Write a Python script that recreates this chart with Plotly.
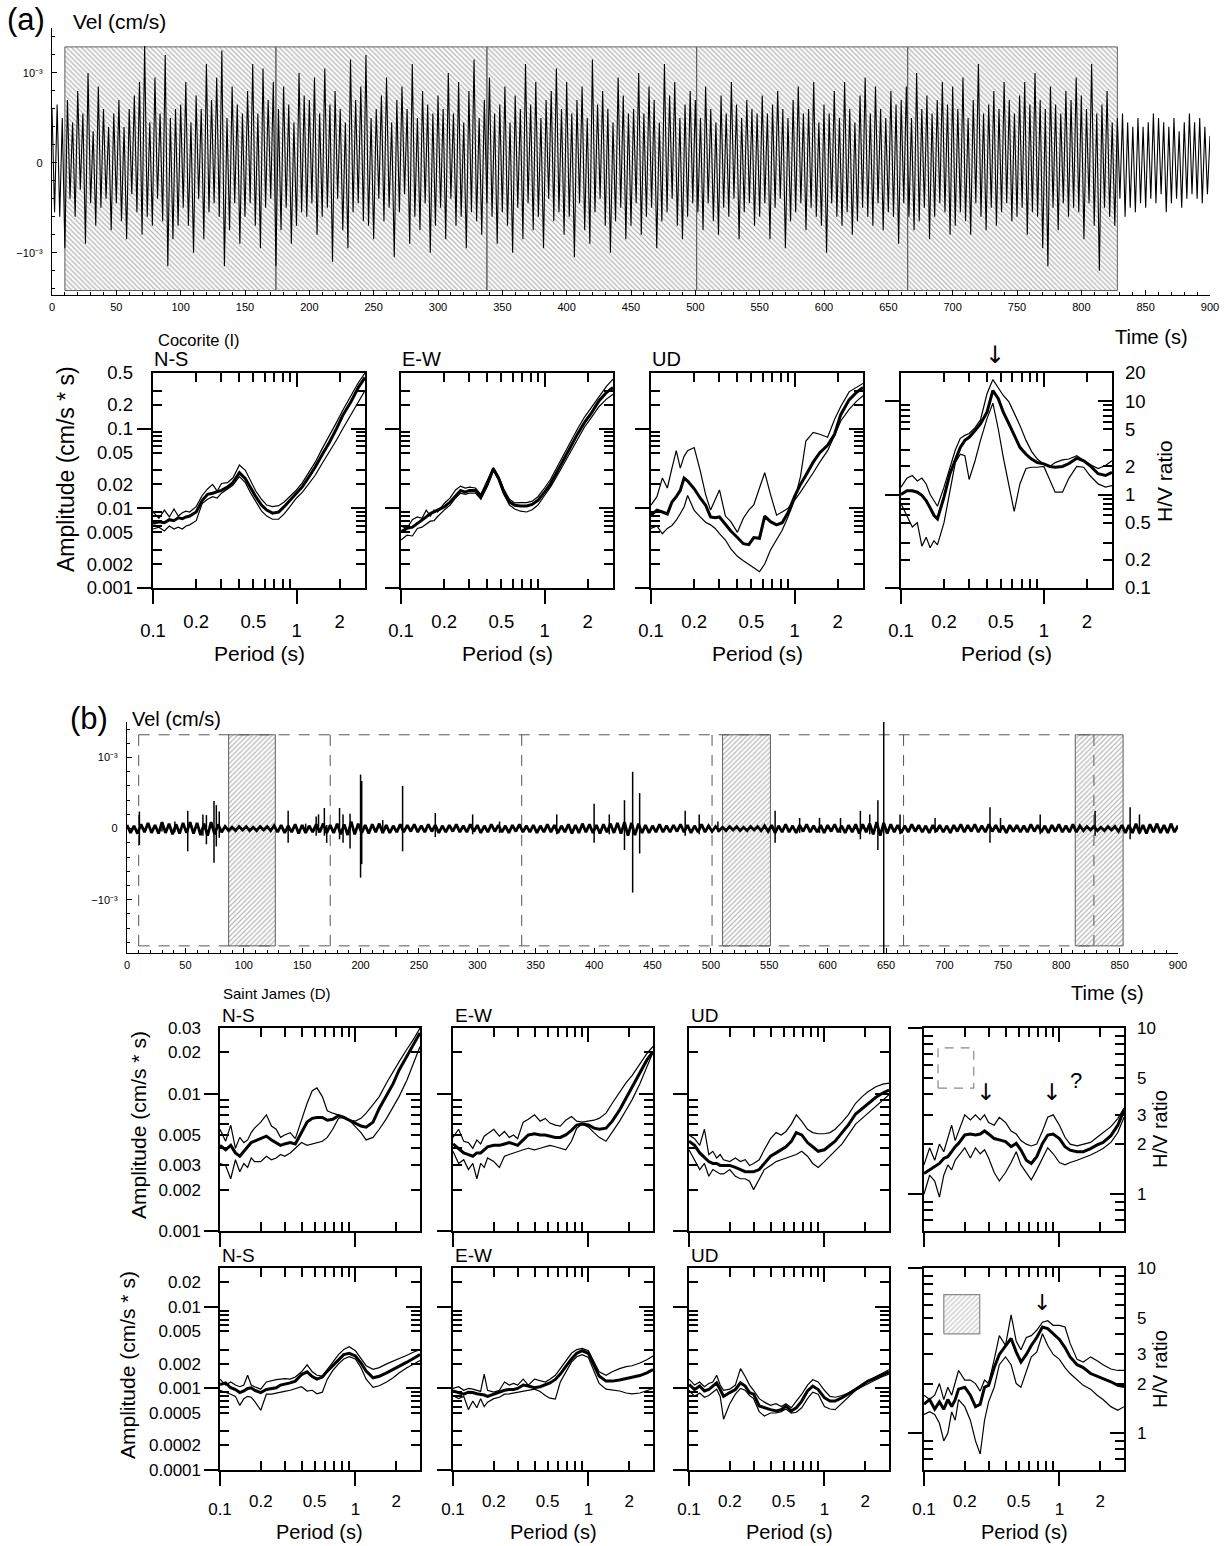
import math
import plotly.graph_objects as go

W, H = 1232, 1546
FONT = "Liberation Sans, Arial, Helvetica, sans-serif"

# ============================ DATA ============================
# (a) Cocorite velocity record, one value every 2 s, units 1e-5 cm/s
wave_a_dt = 2
wave_a = [
    60, -55, 65, -60, 50, -95, 70, -40, 45, -60, 80, -30, 55, -90, 100, -45, 35, -70, 85, -50, 60, -40, 40, -75, 55,
    -45, 70, -65, 40, -85, 60, -35, 75, -55, 90, -80, 130, -60, 45, -70, 95, -40, 55, -65, 120, -115, 50, -85, 60, -70,
    65, -50, 90, -70, 45, -100, 75, -40, 60, -85, 110, -55, 70, -45, 95, -60, 125, -115, 50, -75, 85, -45, 65, -90, 55,
    -60, 80, -45, 110, -70, 55, -95, 105, -50, 70, -40, 90, -115, 60, -75, 85, -50, 65, -90, 45, -70, 100, -55, 75, -60,
    70, -45, 95, -80, 55, -60, 105, -50, 65, -110, 80, -40, 60, -75, 45, -95, 115, -55, 70, -45, 85, -65, 120, -70, 50,
    -85, 60, -40, 75, -65, 95, -50, 45, -105, 70, -55, 85, -35, 60, -90, 110, -60, 50, -75, 80, -45, 65, -100, 55, -70,
    75, -50, 60, -85, 100, -40, 55, -70, 90, -60, 45, -95, 80, -55, 115, -65, 50, -80, 70, -45, 95, -60, 55, -90, 65,
    -55, 85, -70, 45, -100, 75, -50, 60, -85, 110, -45, 65, -75, 90, -60, 50, -95, 70, -40, 80, -65, 105, -55, 60, -80,
    90, -60, 55, -105, 70, -45, 85, -75, 50, -90, 115, -55, 65, -40, 80, -70, 60, -100, 45, -65, 95, -50, 75, -85, 55,
    -70, 60, -45, 100, -80, 55, -60, 85, -50, 70, -95, 45, -65, 110, -55, 75, -40, 90, -70, 50, -85, 65, -60, 80, -45,
    70, -55, 50, -75, 85, -45, 60, -65, 45, -80, 75, -50, 55, -60, 90, -40, 65, -85, 50, -55, 70, -45, 60, -70, 55,
    -60, 75, -45, 55, -85, 65, -50, 80, -40, 60, -95, 50, -65, 70, -55, 85, -45, 55, -75, 60, -50, 90, -60, 45, -70,
    65, -100, 55, -45, 80, -60, 50, -70, 90, -55, 60, -80, 45, -65, 75, -50, 95, -60, 55, -70, 85, -45, 60, -75, 50,
    -55, 80, -60, 65, -90, 70, -45, 85, -60, 50, -75, 100, -65, 60, -50, 75, -85, 55, -60, 70, -45, 90, -55, 65, -80,
    85, -70, 60, -55, 95, -65, 50, -80, 70, -45, 110, -60, 55, -75, 65, -50, 80, -70, 60, -55, 90, -45, 70, -65, 55,
    -60, 75, -50, 90, -80, 65, -55, 100, -60, 70, -95, 60, -115, 85, -50, 65, -75, 55, -45, 80, -60, 70, -50, 95, -55,
    75, -85, 60, -45, 110, -70, 55, -120, 65, -50, 80, -60, 45, -70, 50, -40, 55, -60, 45, -50, 40, -55, 50, -45, 40,
    -50, 45, -40, 55, -45, 50, -35, 45, -55, 40, -45, 50, -40, 35, -50, 45, -40, 55, -35, 45, -40, 50, -45, 40, -35,
    30]

# (b) Saint James background noise, one value every 3 s, units 1e-5 cm/s
wave_b_dt = 3
wave_b_noise = [
    5, -6, 4, -7, 6, -5, 8, -6, 5, -7, 9, -6, 7, -8, 6, -7, 8, -6, 9, -7,
    8, -9, 7, -10, 9, -8, 6, -5, 3, -3, 2, -3, 3, -2, 3, -3, 2, -3, 3, -2,
    3, -3, 4, -5, 5, -6, 4, -5, 6, -7, 5, -6, 4, -5, 6, -5, 7, -6, 5, -6,
    7, -8, 6, -9, 10, -8, 7, -6, 5, -7, 6, -5, 7, -6, 5, -6, 4, -5, 6, -5,
    5, -4, 6, -5, 4, -5, 6, -4, 5, -6, 4, -5, 5, -4, 6, -5, 4, -5, 6, -4,
    5, -6, 4, -5, 6, -4, 5, -5, 4, -6, 5, -4, 6, -5, 4, -5, 5, -6, 4, -5,
    6, -5, 5, -6, 4, -5, 6, -7, 5, -6, 7, -5, 6, -6, 5, -7, 6, -5, 7, -6,
    8, -7, 9, -10, 8, -9, 7, -6, 5, -6, 4, -5, 6, -5, 4, -5, 5, -4, 6, -5,
    5, -6, 4, -5, 6, -5, 4, -4, 3, -3, 2, -3, 3, -2, 3, -3, 2, -3, 3, -2,
    3, -3, 4, -4, 5, -6, 4, -5, 6, -5, 4, -6, 5, -4, 6, -5, 4, -5, 5, -6,
    5, -4, 6, -5, 4, -6, 5, -5, 6, -7, 6, -5, 7, -8, 9, -10, 8, -7, 6, -5,
    5, -6, 4, -5, 6, -4, 5, -5, 4, -6, 5, -4, 5, -5, 4, -6, 5, -4, 6, -5,
    5, -4, 6, -5, 4, -5, 6, -4, 5, -5, 4, -6, 5, -4, 5, -5, 4, -5, 6, -4,
    5, -5, 4, -6, 5, -4, 6, -5, 4, -5, 6, -5, 4, -3, 3, -2, 3, -3, 2, -3,
    3, -2, 3, -4, 5, -6, 5, -6, 7, -6, 5, -7, 6, -5, 7, -6, 5, -6, 7, -5,
    4]

# (b) transients: time (s), positive and negative peaks (1e-3 cm/s)
spike_time = [10.6, 30, 41, 52, 65, 68, 74.5, 76.5, 79, 138, 153, 162, 164, 169, 171, 182, 185, 191,
              200, 201, 219, 236, 264, 296, 319, 368, 400, 413, 426, 433, 439, 478, 490, 506, 555,
              576, 593, 611, 628, 636, 643, 648, 662, 692, 739, 748, 782, 829, 859, 867]
spike_pos = [0.24, 0.08, 0.10, 0.25, 0.20, 0.19, 0.39, 0.33, 0.24, 0.25, 0.07, 0.17, 0.20, 0.29, 0.05,
             0.29, 0.20, 0.21, 0.76, 0.67, 0.12, 0.60, 0.22, 0.20, 0.10, 0.20, 0.35, 0.20, 0.40, 0.80,
             0.50, 0.25, 0.20, 0.10, 0.25, 0.15, 0.15, 0.15, 0.25, 0.20, 0.40, 1.85, 0.20, 0.15, 0.30,
             0.15, 0.20, 0.25, 0.30, 0.20]
spike_neg = [-0.23, -0.04, -0.05, -0.32, -0.10, -0.22, -0.48, -0.25, -0.13, -0.20, -0.03, -0.10, -0.06,
             -0.10, -0.20, -0.15, -0.20, -0.28, -0.69, -0.50, -0.05, -0.32, -0.12, -0.08, -0.06, -0.08,
             -0.20, -0.08, -0.30, -0.90, -0.35, -0.10, -0.08, -0.05, -0.20, -0.06, -0.06, -0.06, -0.15,
             -0.08, -0.30, -1.75, -0.08, -0.06, -0.20, -0.06, -0.08, -0.10, -0.15, -0.08]

# analysis windows (s) and their velocity extent (cm/s)
window_start = [10, 174, 338, 501, 665]
window_end = [174, 338, 501, 665, 828]
window_vel_a = [-1.42e-3, 1.29e-3]
window_vel_b = [-1.65e-3, 1.32e-3]
quiet_start = [87, 510, 812]
quiet_end = [127, 551, 853]

# period grid (s) of the spectra
period = [0.10, 0.11, 0.12, 0.13, 0.14, 0.15, 0.16, 0.17, 0.18, 0.20, 0.22, 0.24, 0.26, 0.28, 0.30,
          0.33, 0.36, 0.40, 0.44, 0.48, 0.52, 0.57, 0.62, 0.68, 0.75, 0.82, 0.90,
          1.0, 1.1, 1.2, 1.35, 1.5, 1.7, 1.9, 2.1, 2.4, 2.7, 3.0]

# ---- (a) Cocorite spectra, amplitude in 1e-3 cm/s*s (upper, lower, mean)
a_ns_up = [9.0, 7.5, 9.5, 7.8, 9.8, 8.0, 8.8, 9.2, 9.0, 10.5, 14.5, 17.5, 20, 16.5, 20.5,
           21, 24, 35, 30, 22, 16.5, 13, 11, 10.5, 10.8, 12, 14,
           17, 21, 27, 38, 55, 82, 120, 170, 260, 380, 500]
a_ns_lo = [5.5, 5.8, 5.2, 6.0, 5.5, 5.8, 5.5, 6.0, 6.2, 7.0, 11.5, 13, 14, 13.5, 15.5,
           17.5, 19.5, 25, 21, 15.5, 12, 9.3, 8.0, 7.3, 7.3, 8.5, 10.5,
           13.5, 16, 19.5, 26, 36, 51, 72, 100, 150, 220, 300]
a_ns_mean = [6.5, 6.8, 6.6, 7.2, 7.0, 7.6, 7.4, 7.8, 8.0, 9.0, 12.5, 15.0, 15.5, 16.0, 16.8,
             18.5, 21, 28, 23.5, 18, 14, 11, 9.5, 8.7, 9.0, 10.5, 12.5,
             15.4, 18.7, 23.7, 33, 46.5, 68, 100, 147, 220, 330, 440]
a_ew_up = [6.0, 5.6, 7.2, 7.8, 7.5, 9.5, 8.0, 9.5, 9.0, 11.5, 13.5, 17, 19, 18, 18.5,
           18, 15, 22, 32.5, 25, 17.5, 13, 11.7, 11.8, 11.8, 12.3, 14,
           18, 23, 31, 46, 68, 100, 140, 180, 260, 340, 420]
a_ew_lo = [4.0, 4.6, 4.5, 5.6, 5.8, 6.3, 6.9, 7.0, 7.9, 9.5, 11, 13.5, 15.5, 15, 15.5,
           15.5, 13, 19, 30, 22.5, 15, 11, 9.8, 9.2, 9.0, 9.6, 11,
           14.5, 18.5, 24, 35, 51, 76, 105, 135, 190, 235, 270]
a_ew_mean = [5.1, 5.6, 5.8, 6.4, 7.1, 7.8, 8.6, 9.0, 9.4, 10.4, 12, 14.5, 16.8, 16, 16.8,
             16.8, 13.9, 20.3, 31.3, 23.5, 16, 12, 10.9, 10.7, 10.7, 11.2, 12.6,
             16, 20.3, 27, 39.8, 58, 86, 120, 153, 224, 284, 330]
a_ud_up = [11, 14, 24, 18, 32, 53, 32, 45, 53, 58, 30, 15, 9.5, 13, 17,
           8, 6.8, 5.0, 7.5, 9.5, 11, 18, 28, 15, 8.2, 9.0, 10,
           12.6, 25, 70, 90, 85, 78, 130, 190, 290, 330, 370]
a_ud_lo = [5.6, 6.0, 4.8, 5.6, 6.1, 7.1, 8.6, 10.4, 14.5, 9.4, 7.8, 6.7, 6.2, 5.6, 4.8,
           4.0, 3.1, 2.5, 2.2, 2.0, 1.8, 1.6, 2.0, 3.0, 4.0, 5.3, 7.8,
           12.6, 16, 20, 28, 38, 53, 82, 125, 175, 220, 260]
a_ud_mean = [8.2, 9.5, 9.0, 8.5, 12, 14, 16.8, 24, 22, 17.6, 13.5, 11, 7.8, 7.6, 7.8,
             6.2, 5.2, 4.3, 3.6, 3.5, 4.3, 4.2, 8.0, 6.8, 6.2, 6.6, 8.8,
             14, 20, 26, 38, 50, 62, 85, 150, 230, 285, 330]
a_hv_up = [1.2, 1.5, 1.6, 1.4, 1.5, 1.3, 1.0, 0.85, 0.75, 1.2, 2.0, 3.0, 4.0, 4.3, 4.5,
           5.2, 6.3, 12, 17, 14, 11.5, 9.8, 7.5, 5.5, 3.8, 2.9, 2.4,
           2.1, 2.0, 2.2, 2.35, 2.4, 2.6, 2.3, 2.1, 1.9, 2.05, 2.3]
a_hv_lo = [0.8, 0.6, 0.45, 0.5, 0.28, 0.35, 0.27, 0.32, 0.29, 0.5, 1.1, 2.2, 2.7, 2.6, 1.45,
           2.3, 3.8, 6.5, 9.5, 5.0, 2.5, 1.2, 0.66, 1.3, 1.9, 1.96, 1.96,
           2.0, 1.4, 1.06, 1.06, 1.5, 2.0, 1.96, 1.6, 1.3, 1.2, 1.25]
a_hv_mean = [1.0, 1.1, 1.1, 1.06, 0.98, 0.86, 0.72, 0.6, 0.55, 0.94, 1.67, 2.4, 3.2, 3.8, 4.1,
             4.85, 5.7, 7.6, 13, 10.6, 7.6, 5.7, 4.3, 3.2, 2.7, 2.4, 2.2,
             2.13, 2.0, 1.96, 2.0, 2.15, 2.45, 2.3, 2.05, 1.67, 1.6, 1.73]

# ---- (b) Saint James, upper row (all windows), amplitude in 1e-3 cm/s*s
b1_ns_up = [5.5, 4.5, 5.9, 4.0, 4.8, 4.4, 4.6, 5.2, 5.6, 6.2, 7.0, 5.8, 5.5, 4.8, 5.0,
            5.2, 4.7, 6.5, 8.5, 10.5, 11.0, 9.5, 7.5, 7.2, 7.0, 6.8, 6.4,
            6.3, 6.6, 7.2, 8.3, 9.5, 12, 14.5, 17, 21, 25, 30]
b1_ns_lo = [3.1, 3.0, 2.4, 3.3, 2.7, 3.1, 2.9, 3.4, 3.2, 3.2, 3.5, 3.3, 3.4, 3.6, 3.5,
            3.7, 4.0, 4.4, 4.2, 4.3, 4.4, 4.5, 4.8, 5.5, 6.6, 6.8, 6.4,
            5.7, 5.2, 4.6, 4.8, 5.5, 6.6, 8.0, 9.5, 12.5, 17, 22]
b1_ns_mean = [4.2, 3.9, 4.2, 3.7, 3.5, 3.8, 4.1, 4.4, 4.5, 4.7, 4.9, 4.6, 4.4, 4.2, 4.3,
              4.4, 4.3, 5.2, 6.2, 6.6, 6.7, 6.7, 6.4, 6.5, 6.9, 6.7, 6.4,
              6.0, 5.8, 5.7, 6.2, 7.8, 9.8, 11.8, 14.8, 18.5, 23, 27.6]
b1_ew_up = [4.8, 5.5, 4.5, 4.4, 4.0, 4.6, 4.3, 4.9, 5.1, 5.5, 4.9, 5.3, 4.8, 5.0, 4.7,
            6.2, 6.5, 7.0, 6.3, 6.6, 6.1, 5.9, 5.8, 6.4, 6.8, 6.3, 6.2,
            6.3, 6.4, 6.6, 7.2, 8.5, 10.3, 12, 13.5, 16.5, 19.5, 22]
b1_ew_lo = [3.8, 3.1, 3.3, 2.8, 3.1, 2.4, 3.1, 2.9, 3.4, 3.2, 2.9, 3.5, 3.6, 3.7, 3.8,
            3.9, 4.0, 3.9, 4.0, 4.1, 4.2, 4.1, 4.0, 3.9, 4.5, 5.6, 6.0,
            5.7, 5.2, 4.8, 4.5, 5.2, 6.3, 7.6, 9.0, 11.8, 15.5, 20]
b1_ew_mean = [4.3, 4.0, 3.7, 3.6, 3.5, 3.7, 3.7, 3.9, 4.1, 4.2, 4.2, 4.3, 4.4, 4.3, 4.2,
              4.6, 5.0, 5.1, 5.0, 5.0, 4.9, 4.8, 4.8, 5.0, 5.4, 5.9, 6.0,
              5.9, 5.6, 5.5, 5.6, 6.3, 7.6, 9.3, 11, 14, 17.5, 20.2]
b1_ud_up = [5.0, 4.7, 4.2, 5.5, 3.6, 3.8, 3.4, 3.6, 3.3, 3.2, 3.4, 3.2, 3.3, 3.0, 3.1,
            3.3, 3.9, 4.7, 5.2, 5.0, 5.3, 6.0, 7.0, 6.3, 5.5, 5.2, 5.1,
            5.1, 5.2, 5.5, 6.2, 7.0, 8.5, 9.5, 10.3, 11.2, 11.7, 11.9]
b1_ud_lo = [3.9, 3.3, 2.8, 3.1, 2.5, 2.8, 2.7, 2.6, 2.6, 2.8, 2.5, 2.4, 2.4, 2.3, 2.0,
            2.4, 2.8, 3.0, 3.2, 3.3, 3.4, 3.5, 3.6, 3.8, 3.5, 3.1, 2.9,
            3.2, 3.5, 3.8, 4.3, 5.0, 6.0, 6.6, 7.2, 8.2, 9.0, 9.8]
b1_ud_mean = [4.5, 4.2, 3.7, 3.4, 3.2, 3.1, 3.1, 3.0, 3.0, 3.0, 2.9, 2.8, 2.7, 2.7, 2.7,
              2.8, 3.1, 3.5, 3.7, 3.9, 4.1, 4.5, 5.2, 5.0, 4.4, 4.1, 3.8,
              3.9, 4.2, 4.5, 5.2, 5.9, 7.1, 7.8, 8.5, 9.4, 10.1, 10.6]
b1_hv_up = [1.5, 1.9, 1.6, 2.0, 1.8, 2.2, 2.6, 2.1, 2.4, 3.0, 2.8, 3.0, 2.8, 3.0, 2.7,
            2.6, 2.9, 2.7, 2.4, 2.3, 2.1, 2.0, 1.95, 2.0, 2.4, 2.9, 3.0,
            2.6, 2.2, 2.0, 1.95, 2.0, 2.05, 2.2, 2.35, 2.55, 2.85, 3.3]
b1_hv_lo = [1.0, 1.3, 1.2, 0.96, 1.3, 1.5, 1.4, 1.6, 1.7, 1.9, 1.65, 1.9, 1.75, 1.85, 1.65,
            1.35, 1.2, 1.35, 1.55, 1.8, 1.5, 1.35, 1.22, 1.4, 1.65, 1.9, 1.75,
            1.55, 1.5, 1.55, 1.6, 1.65, 1.72, 1.8, 1.88, 2.05, 2.35, 2.9]
b1_hv_mean = [1.33, 1.4, 1.45, 1.53, 1.64, 1.68, 1.8, 1.93, 2.02, 2.27, 2.3, 2.27, 2.3, 2.4, 2.3,
              2.16, 2.12, 2.07, 1.93, 2.02, 1.84, 1.6, 1.53, 1.68, 2.02, 2.27, 2.3,
              2.16, 1.93, 1.84, 1.8, 1.8, 1.88, 1.98, 2.05, 2.25, 2.6, 3.2]

# ---- (b) Saint James, lower row (quiet windows), amplitude in 1e-3 cm/s*s
b2_ns_up = [1.3, 1.1, 1.2, 1.1, 1.05, 1.1, 1.45, 1.1, 1.05, 0.98, 1.2, 1.25, 1.28, 1.3, 1.32,
            1.3, 1.38, 1.6, 1.95, 1.6, 1.45, 1.42, 1.7, 2.1, 2.6, 3.0, 3.25,
            2.9, 2.3, 1.9, 1.72, 1.8, 2.0, 2.15, 2.3, 2.55, 2.8, 3.0]
b2_ns_lo = [0.95, 0.9, 0.85, 0.8, 0.62, 0.75, 0.8, 0.78, 0.7, 0.54, 0.85, 0.85, 0.88, 0.9, 0.92,
            0.95, 1.0, 1.05, 0.93, 0.95, 0.86, 0.9, 1.3, 1.65, 2.0, 2.3, 2.45,
            2.3, 1.8, 1.3, 1.03, 1.08, 1.2, 1.35, 1.55, 1.8, 2.0, 2.2]
b2_ns_mean = [1.12, 1.17, 1.02, 0.97, 0.89, 0.93, 1.0, 1.02, 0.95, 0.89, 0.97, 1.0, 1.02, 1.1, 1.12,
              1.17, 1.23, 1.48, 1.6, 1.4, 1.3, 1.38, 1.63, 1.9, 2.3, 2.6, 2.7,
              2.5, 2.05, 1.63, 1.35, 1.41, 1.55, 1.7, 1.85, 2.1, 2.35, 2.6]
b2_ew_up = [1.0, 1.05, 0.95, 1.0, 0.98, 0.95, 0.92, 1.5, 0.95, 0.9, 0.95, 1.2, 1.1, 1.15, 1.1,
            1.3, 1.1, 1.3, 1.25, 1.2, 1.3, 1.45, 1.75, 2.2, 2.7, 3.0, 3.1,
            2.9, 2.1, 1.6, 1.45, 1.6, 1.75, 1.85, 1.9, 2.05, 2.25, 2.5]
b2_ew_lo = [0.82, 0.75, 0.8, 0.55, 0.7, 0.58, 0.75, 0.6, 0.68, 0.75, 0.78, 0.85, 0.86, 0.88, 0.9,
            0.92, 0.95, 0.98, 0.92, 0.82, 0.76, 0.74, 1.2, 1.6, 2.1, 2.45, 2.6,
            2.4, 1.6, 1.15, 0.98, 0.95, 0.93, 0.88, 0.86, 0.88, 0.94, 1.0]
b2_ew_mean = [0.93, 0.88, 0.85, 0.9, 0.89, 0.86, 0.85, 0.83, 0.8, 0.85, 0.89, 0.95, 0.97, 0.97, 1.0,
              1.1, 1.07, 1.02, 1.05, 1.1, 1.17, 1.29, 1.5, 1.85, 2.3, 2.7, 2.9,
              2.7, 1.9, 1.42, 1.23, 1.23, 1.27, 1.32, 1.36, 1.44, 1.55, 1.7]
b2_ud_up = [1.3, 1.1, 1.2, 1.05, 1.15, 1.2, 1.45, 1.1, 0.95, 0.98, 1.1, 1.75, 1.4, 1.1, 0.95,
            0.75, 0.68, 0.62, 0.65, 0.6, 0.65, 0.58, 0.7, 0.85, 1.1, 1.28, 1.2,
            0.95, 0.8, 0.78, 0.82, 0.88, 1.0, 1.12, 1.25, 1.4, 1.55, 1.7]
b2_ud_lo = [0.95, 0.8, 0.88, 0.78, 0.82, 0.9, 0.98, 0.8, 0.42, 0.65, 0.85, 1.0, 0.95, 0.82, 0.75,
            0.52, 0.46, 0.5, 0.5, 0.52, 0.56, 0.5, 0.51, 0.58, 0.75, 0.9, 0.85,
            0.6, 0.56, 0.55, 0.66, 0.78, 0.95, 1.05, 1.15, 1.28, 1.4, 1.5]
b2_ud_mean = [1.12, 0.97, 1.07, 0.93, 0.97, 1.07, 1.17, 0.97, 0.8, 0.89, 0.97, 1.17, 1.07, 0.89, 0.85,
              0.61, 0.58, 0.55, 0.53, 0.55, 0.61, 0.53, 0.58, 0.7, 0.93, 1.07, 0.97,
              0.77, 0.7, 0.7, 0.77, 0.85, 0.97, 1.1, 1.23, 1.35, 1.48, 1.6]
b2_hv_up = [1.7, 1.6, 1.7, 2.0, 1.6, 1.9, 1.7, 2.0, 2.4, 2.1, 2.1, 2.0, 1.8, 2.1, 2.0,
            2.8, 3.9, 3.4, 5.2, 3.6, 3.2, 3.8, 3.9, 4.2, 4.7, 4.8, 4.5,
            4.5, 4.4, 3.5, 2.8, 2.7, 2.9, 2.75, 2.6, 2.45, 2.4, 2.4]
b2_hv_lo = [1.3, 1.35, 1.3, 1.15, 0.9, 1.0, 1.35, 1.2, 1.6, 1.45, 1.2, 0.9, 0.75, 1.2, 1.55,
            1.9, 2.6, 2.9, 2.6, 2.0, 1.9, 2.4, 2.9, 3.1, 4.0, 3.4, 3.0,
            2.8, 2.5, 2.3, 2.1, 1.95, 1.85, 1.7, 1.6, 1.45, 1.38, 1.45]
b2_hv_mean = [1.5, 1.6, 1.4, 1.55, 1.4, 1.6, 1.45, 1.6, 1.85, 1.9, 1.7, 1.45, 1.5, 1.9, 1.95,
              2.5, 3.0, 3.4, 3.75, 3.1, 2.7, 3.0, 3.4, 3.8, 4.4, 4.3, 4.0,
              3.7, 3.3, 2.9, 2.6, 2.5, 2.3, 2.22, 2.15, 2.05, 1.95, 1.92]

# tick values of the spectra
period_ticks_low = [0.1, 1]
period_ticks_high = [0.2, 0.5, 2]
amp_a_ticks = [0.001, 0.002, 0.005, 0.01, 0.02, 0.05, 0.1, 0.2, 0.5]
amp_b1_ticks = [0.001, 0.002, 0.003, 0.005, 0.01, 0.02, 0.03]
amp_b2_ticks = [0.0001, 0.0002, 0.0005, 0.001, 0.002, 0.005, 0.01, 0.02]
hv_a_ticks = [0.1, 0.2, 0.5, 1, 2, 5, 10, 20]
hv_b_ticks = [1, 2, 3, 5, 10]

# marked H/V peaks (s) and the window-type symbols of panel (b)
peak_a = [0.454]
peak_b1 = [0.286, 0.87]
peak_b2 = [0.75]
uncertain_peak_b1 = 1.33
symbol_dash_period = [0.127, 0.233]
symbol_dash_ratio = [4.35, 7.6]
symbol_hatch_period = [0.14, 0.258]
symbol_hatch_ratio = [4.0, 6.9]

# ============================ FIGURE ============================
layout = dict(width=W, height=H, margin=dict(l=0, r=0, t=0, b=0, pad=0, autoexpand=False),
              paper_bgcolor='white', plot_bgcolor='rgba(0,0,0,0)',
              showlegend=False, hovermode=False,
              font=dict(family=FONT, color='black', size=12))
traces = []
anns = []


def px2x(px):
    return px / W


def py2y(py):
    return 1 - py / H


count = {'x': 0, 'y': 0}


def new_axis(letter):
    count[letter] += 1
    n = count[letter]
    key = f'{letter}axis' if n == 1 else f'{letter}axis{n}'
    ref = letter if n == 1 else f'{letter}{n}'
    return key, ref


BASE = dict(showgrid=False, zeroline=False, linecolor='black', tickcolor='black', automargin=False)


def text(s, px, py, size, xa='left', ya='middle', angle=0, family=FONT):
    anns.append(dict(text=s, x=px2x(px), y=py2y(py), xref='paper', yref='paper',
                     xanchor=xa, yanchor=ya, showarrow=False, textangle=angle,
                     font=dict(size=size, family=family, color='black')))


def rect_path(starts, ends, lo, hi):
    xs, ys = [], []
    for s, e in zip(starts, ends):
        xs += [s, e, e, s, s, None]
        ys += [lo, lo, hi, hi, lo, None]
    return xs, ys


def anchor_trace(xr, yr, x, y):
    # invisible point that makes plotly draw an overlay axis
    traces.append(go.Scatter(x=[x], y=[y], xaxis=xr, yaxis=yr, mode='markers',
                             marker=dict(opacity=0, size=1), hoverinfo='skip'))


SUP_M3 = '10\u207b\u00b3'


def waveform_axes(x0, x1, y0, y1, yr):
    kx, rx = new_axis('x')
    ky, ry = new_axis('y')
    layout[kx] = dict(BASE, domain=[px2x(x0), px2x(x1)], anchor=ry, range=[0, 900],
                      showline=True, linewidth=1.2, ticks='inside', ticklen=5, tickwidth=1,
                      tickmode='array', tickvals=list(range(0, 901, 50)),
                      tickfont=dict(size=11), ticklabelstandoff=2,
                      minor=dict(tickmode='array', tickvals=[t for t in range(0, 901, 10) if t % 50],
                                 ticks='inside', ticklen=3, tickwidth=1, tickcolor='black'))
    layout[ky] = dict(BASE, domain=[py2y(y1), py2y(y0)], anchor=rx, range=yr,
                      showline=True, linewidth=1.2, ticks='inside', ticklen=5, tickwidth=1,
                      tickmode='array', tickvals=[-1e-3, 0, 1e-3],
                      ticktext=['\u2212' + SUP_M3, '0', SUP_M3],
                      tickfont=dict(size=11), ticklabelstandoff=6,
                      minor=dict(tickmode='array', tickvals=[k * 2e-4 for k in range(-8, 8) if k % 5],
                                 ticks='inside', ticklen=3, tickwidth=1, tickcolor='black'))
    return rx, ry


# ---------------- (a) waveform ----------------
rx, ry = waveform_axes(52, 1210, 28, 295, [-1.47e-3, 1.5e-3])
bx, by = rect_path(window_start, window_end, window_vel_a[0], window_vel_a[1])
traces.append(go.Scatter(x=bx, y=by, xaxis=rx, yaxis=ry, mode='lines', fill='toself',
                         fillcolor='rgba(0,0,0,0)', line=dict(color='#606060', width=1),
                         fillpattern=dict(shape='\\', fgcolor='#6a6a6a', size=3.5, solidity=0.35)))
traces.append(go.Scatter(x=[i * wave_a_dt for i in range(len(wave_a))], y=[v * 1e-5 for v in wave_a],
                         xaxis=rx, yaxis=ry, mode='lines', line=dict(color='black', width=1.1)))

# ---------------- (b) waveform ----------------
rx, ry = waveform_axes(127, 1178, 722, 953, [-1.75e-3, 1.5e-3])
lo, hi = window_vel_b
t0, t1 = min(window_start), max(window_end)
dxs = [t0, t1, None, t0, t1, None]
dys = [hi, hi, None, lo, lo, None]
for t in window_start + [window_end[-1]]:
    dxs += [t, t, None]
    dys += [lo, hi, None]
traces.append(go.Scatter(x=dxs, y=dys, xaxis=rx, yaxis=ry, mode='lines',
                         line=dict(color='#555555', width=1, dash='11px,9px')))
qx, qy = rect_path(quiet_start, quiet_end, lo, hi)
traces.append(go.Scatter(x=qx, y=qy, xaxis=rx, yaxis=ry, mode='lines', fill='toself',
                         fillcolor='rgba(0,0,0,0)', line=dict(color='#606060', width=1),
                         fillpattern=dict(shape='/', fgcolor='#6a6a6a', size=3.5, solidity=0.35)))
traces.append(go.Scatter(x=[i * wave_b_dt for i in range(len(wave_b_noise))],
                         y=[v * 1e-5 for v in wave_b_noise],
                         xaxis=rx, yaxis=ry, mode='lines', line=dict(color='black', width=2.8)))
sx, sy = [], []
for t, p, n in zip(spike_time, spike_pos, spike_neg):
    sx += [t, t, None]
    sy += [n * 1e-3, p * 1e-3, None]
traces.append(go.Scatter(x=sx, y=sy, xaxis=rx, yaxis=ry, mode='lines',
                         line=dict(color='black', width=1.5)))

# ---------------- spectra panels ----------------
XR = [math.log10(0.1), math.log10(3.0)]
XMINOR = [0.2, 0.3, 0.4, 0.5, 0.6, 0.7, 0.8, 0.9, 2]


def minor_vals(lo, hi, mults):
    out = []
    for k in range(-5, 3):
        for m in mults:
            v = m * 10 ** k
            if lo * 1.0001 < v < hi * 0.9999:
                out.append(v)
    return out


def fmt(v):
    return ('%g' % v)


def add_panel(x0, x1, y0, y1, yrange, yticks, mults, hv, xlabels, ylabels, fsize,
              std_lo, std_hi, ystand, curves, scale):
    kx, xB = new_axis('x')
    ky, yL = new_axis('y')
    yr = [math.log10(yrange[0]), math.log10(yrange[1])]
    ymid = math.sqrt(yrange[0] * yrange[1])
    decades = [10 ** k for k in range(-5, 3) if yrange[0] * 0.999 <= 10 ** k <= yrange[1] * 1.001]
    ymin = minor_vals(yrange[0], yrange[1], mults)
    xdom = [px2x(x0), px2x(x1)]
    ydom = [py2y(y1), py2y(y0)]
    mx = dict(tickmode='array', tickvals=XMINOR, ticks='inside', ticklen=9, tickwidth=1.5,
              tickcolor='black')
    my = dict(tickmode='array', tickvals=ymin, ticks='inside', ticklen=9, tickwidth=1.5,
              tickcolor='black')
    layout[kx] = dict(BASE, type='log', domain=xdom, anchor=yL, range=XR,
                      showline=True, linewidth=1.5, ticks='outside', ticklen=14, tickwidth=1.5,
                      tickmode='array', tickvals=[0.1, 1], showticklabels=False, minor=mx)
    layout[ky] = dict(BASE, type='log', domain=ydom, anchor=xB, range=yr,
                      showline=True, linewidth=1.5, ticks='outside', ticklen=14, tickwidth=1.5,
                      tickmode='array', tickvals=decades, showticklabels=False, minor=my)
    k, xT = new_axis('x')
    layout[k] = dict(BASE, type='log', overlaying=xB, side='top', anchor=yL, range=XR, domain=xdom,
                     showline=True, linewidth=1.5, ticks='inside', ticklen=14, tickwidth=1.5,
                     tickmode='array', tickvals=[1], showticklabels=False, minor=mx)
    anchor_trace(xT, yL, 0.5, ymid)
    if xlabels:
        for vals, stand in [(period_ticks_low, std_lo), (period_ticks_high, std_hi)]:
            k, xl = new_axis('x')
            layout[k] = dict(BASE, type='log', overlaying=xB, side='bottom', anchor=yL, range=XR,
                             domain=xdom, showline=False, ticks='', tickmode='array', tickvals=vals,
                             ticktext=[fmt(v) for v in vals], tickfont=dict(size=fsize),
                             ticklabelstandoff=stand)
            anchor_trace(xl, yL, 0.5, ymid)
    k, yR = new_axis('y')
    layout[k] = dict(BASE, type='log', overlaying=yL, side='right', anchor=xB, range=yr, domain=ydom,
                     showline=True, linewidth=1.5, ticks='inside', ticklen=14, tickwidth=1.5,
                     tickmode='array', tickvals=decades, showticklabels=False, minor=my)
    anchor_trace(xB, yR, 0.5, ymid)
    if ylabels:
        k, yl2 = new_axis('y')
        layout[k] = dict(BASE, type='log', overlaying=yL, side='right' if hv else 'left', anchor=xB,
                         range=yr, domain=ydom, showline=False, ticks='', tickmode='array',
                         tickvals=yticks, ticktext=[fmt(v) for v in yticks],
                         tickfont=dict(size=fsize), ticklabelstandoff=ystand)
        anchor_trace(xB, yl2, 0.5, ymid)
    up, lo_, mean = curves
    for arr, wdt in [(up, 1.2), (lo_, 1.2), (mean, 3.0)]:
        traces.append(go.Scatter(x=period, y=[v * scale for v in arr], xaxis=xB, yaxis=yL,
                                 mode='lines', line=dict(color='black', width=wdt)))
    return xB, yL


MA = [2, 3, 5, 6, 7, 8, 9]
MB = [2, 3, 4, 5, 6, 7, 8, 9]
cols_a = [(153, 365), (401, 613), (651, 863), (901, 1112)]
cols_b = [(220, 420), (453, 653), (689, 889), (924, 1124)]
ROW_A, ROW_B1, ROW_B2 = (373, 588), (1028, 1231), (1268, 1470)

a_curves = [(a_ns_up, a_ns_lo, a_ns_mean), (a_ew_up, a_ew_lo, a_ew_mean), (a_ud_up, a_ud_lo, a_ud_mean)]
b1_curves = [(b1_ns_up, b1_ns_lo, b1_ns_mean), (b1_ew_up, b1_ew_lo, b1_ew_mean), (b1_ud_up, b1_ud_lo, b1_ud_mean)]
b2_curves = [(b2_ns_up, b2_ns_lo, b2_ns_mean), (b2_ew_up, b2_ew_lo, b2_ew_mean), (b2_ud_up, b2_ud_lo, b2_ud_mean)]

refs = {}
for i in range(3):
    add_panel(*cols_a[i], *ROW_A, [0.001, 0.5], amp_a_ticks, MA, False, True, i == 0, 18.5, 29, 20, 19,
              a_curves[i], 1e-3)
refs['a_hv'] = add_panel(*cols_a[3], *ROW_A, [0.1, 20], hv_a_ticks, MA, True, True, True, 18.5, 29, 20, 12,
                         (a_hv_up, a_hv_lo, a_hv_mean), 1.0)
for i in range(3):
    add_panel(*cols_b[i], *ROW_B1, [0.001, 0.03], amp_b1_ticks, MB, False, False, i == 0, 17, 0, 0, 18,
              b1_curves[i], 1e-3)
refs['b1_hv'] = add_panel(*cols_b[3], *ROW_B1, [0.6, 10], hv_b_ticks, MB, True, False, True, 17, 0, 0, 12,
                          (b1_hv_up, b1_hv_lo, b1_hv_mean), 1.0)
for i in range(3):
    add_panel(*cols_b[i], *ROW_B2, [0.0001, 0.03], amp_b2_ticks, MA, False, True, i == 0, 17, 27, 19, 18,
              b2_curves[i], 1e-3)
refs['b2_hv'] = add_panel(*cols_b[3], *ROW_B2, [0.6, 10], hv_b_ticks, MB, True, True, True, 17, 27, 19, 12,
                          (b2_hv_up, b2_hv_lo, b2_hv_mean), 1.0)

# window-type symbols inside the (b) H/V panels
xr_, yr_ = refs['b1_hv']
p0, p1 = symbol_dash_period
r0, r1 = symbol_dash_ratio
traces.append(go.Scatter(x=[p0, p1, p1, p0, p0], y=[r0, r0, r1, r1, r0], xaxis=xr_, yaxis=yr_,
                         mode='lines', line=dict(color='#8a8a8a', width=1.2, dash='9px,7px')))
xr_, yr_ = refs['b2_hv']
hx, hy = rect_path([symbol_hatch_period[0]], [symbol_hatch_period[1]],
                   symbol_hatch_ratio[0], symbol_hatch_ratio[1])
traces.append(go.Scatter(x=hx, y=hy, xaxis=xr_, yaxis=yr_, mode='lines', fill='toself',
                         fillcolor='rgba(0,0,0,0)', line=dict(color='#8a8a8a', width=1.2),
                         fillpattern=dict(shape='/', fgcolor='#8a8a8a', size=3.5, solidity=0.35)))


# peak arrows (text glyphs placed at the peak period)
def arrow(xref, p, center_py, size):
    anns.append(dict(x=math.log10(p), y=py2y(center_py), xref=xref, yref='paper', text='\u2193',
                     showarrow=False, xanchor='center', yanchor='middle',
                     font=dict(size=size, family='DejaVu Sans', color='black')))


for p in peak_a:
    arrow(refs['a_hv'][0], p, 355, 24)
for p in peak_b1:
    arrow(refs['b1_hv'][0], p, 1092, 23)
for p in peak_b2:
    arrow(refs['b2_hv'][0], p, 1302, 22)
anns.append(dict(x=math.log10(uncertain_peak_b1), y=py2y(1095), xref=refs['b1_hv'][0], yref='paper',
                 text='?', showarrow=False, font=dict(size=22, family=FONT, color='black')))

# ---------------- texts ----------------
text('(a)', 5, 20, 31)
text('Vel (cm/s)', 71, 22, 21)
text('Time (s)', 1151, 337, 20, xa='center')
text('Cocorite (I)', 156, 340, 16.5)
for (x0, x1), name in zip(cols_a[:3], ['N-S', 'E-W', 'UD']):
    text(name, x0 - 1, 359, 20)
text('Amplitude (cm/s * s)', 66, 469, 23, xa='center', angle=-90)
for x0, x1 in cols_a:
    text('Period (s)', (x0 + x1) / 2, 653, 21, xa='center')
text('H/V ratio', 1165, 481, 21, xa='center', angle=-90)

text('(b)', 68, 718, 31)
text('Vel (cm/s)', 130, 719, 20)
text('Saint James (D)', 221, 993, 15)
text('Time (s)', 1107, 993, 20, xa='center')
for (x0, x1), name in zip(cols_b[:3], ['N-S', 'E-W', 'UD']):
    text(name, x0, 1015, 19)
    text(name, x0, 1255, 19)
text('Amplitude (cm/s * s)', 138, 1125, 21, xa='center', angle=-90)
text('Amplitude (cm/s * s)', 127, 1365, 21, xa='center', angle=-90)
for x0, x1 in cols_b:
    text('Period (s)', (x0 + x1) / 2, 1532, 20, xa='center')
text('H/V ratio', 1160, 1129, 20, xa='center', angle=-90)
text('H/V ratio', 1160, 1369, 20, xa='center', angle=-90)

layout['annotations'] = anns
fig = go.Figure(data=traces, layout=layout)
fig.write_html("out.html")
